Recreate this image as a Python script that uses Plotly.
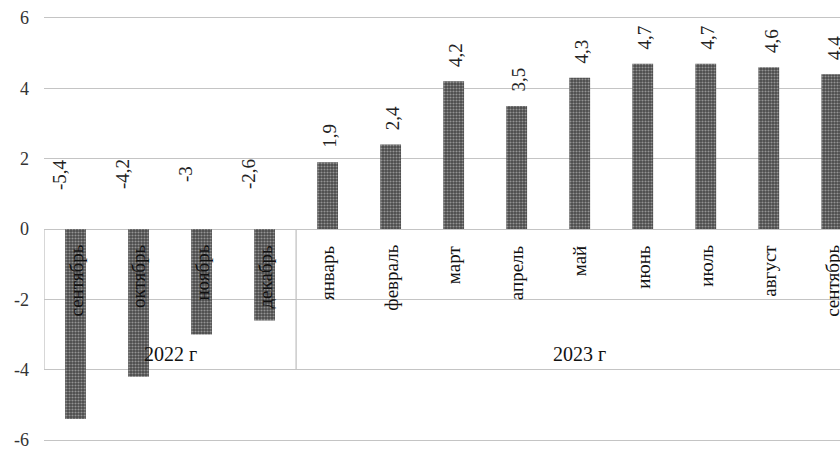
import plotly.graph_objects as go

months = ["сентябрь", "октябрь", "ноябрь", "декабрь",
          "январь", "февраль", "март", "апрель", "май", "июнь", "июль", "август", "сентябрь"]
groups = ["2022 г", "2023 г"]
group_sizes = [4, 9]
values = [-5.4, -4.2, -3, -2.6, 1.9, 2.4, 4.2, 3.5, 4.3, 4.7, 4.7, 4.6, 4.4]
value_labels = ["-5,4", "-4,2", "-3", "-2,6", "1,9", "2,4", "4,2", "3,5", "4,3", "4,7", "4,7", "4,6", "4,4"]
y_ticks = [-6, -4, -2, 0, 2, 4, 6]

FONT = "Liberation Serif, Times New Roman, serif"
GRID = "#c4c4c4"
idx = list(range(len(months)))

fig = go.Figure()
fig.add_trace(go.Bar(
    x=idx, y=values, width=0.33,
    marker=dict(color="#4a4a4a", line=dict(width=0),
                pattern=dict(shape=".", fgcolor="#dcdcdc", bgcolor="#4a4a4a",
                             size=3, solidity=0.4)),
    hoverinfo="skip", showlegend=False,
))

annotations = []
# value labels
for i, (v, t) in enumerate(zip(values, value_labels)):
    if v >= 0:
        annotations.append(dict(x=i, y=v, xref="x", yref="y", text=t, textangle=-90,
                                showarrow=False, xanchor="center", yanchor="bottom",
                                yshift=12, xshift=2, font=dict(family=FONT, size=19, color="#222")))
    else:
        annotations.append(dict(x=i, y=1.55, xref="x", yref="y", text=t, textangle=-90,
                                showarrow=False, xanchor="center", yanchor="middle",
                                xshift=-16, font=dict(family=FONT, size=19, color="#222")))
# month labels
for i, m in enumerate(months):
    annotations.append(dict(x=i, y=0, xref="x", yref="y", text=m, textangle=-90,
                            showarrow=False, xanchor="center", yanchor="top",
                            yshift=-14, font=dict(family=FONT, size=19, color="#111")))
# group labels and dividers
shapes = []
start = 0
for g, n in zip(groups, group_sizes):
    left = start - 0.5
    right = start + n - 0.5
    annotations.append(dict(x=(left + right) / 2, y=-3.55, xref="x", yref="y", text=g,
                            showarrow=False, xanchor="center", yanchor="middle",
                            font=dict(family=FONT, size=20, color="#111")))
    shapes.append(dict(type="line", xref="x", yref="y", x0=left, x1=left, y0=0, y1=-4,
                       line=dict(color="#bdbdbd", width=1.2), layer="below"))
    start += n
shapes.append(dict(type="line", xref="x", yref="y", x0=start - 0.5, x1=start - 0.5, y0=0, y1=-4,
                   line=dict(color="#bdbdbd", width=1.2), layer="below"))

fig.update_layout(
    width=840, height=450,
    margin=dict(l=44, r=0, t=18, b=8),
    paper_bgcolor="white", plot_bgcolor="white",
    annotations=annotations, shapes=shapes,
    # x axis line + mirror give the gridlines at the ends of the value axis (6 and -6)
    xaxis=dict(range=[-0.5, 12.13], showticklabels=False, showgrid=False,
               zeroline=False, showline=True, mirror=True, linecolor=GRID, linewidth=1.2,
               ticks=""),
    yaxis=dict(range=[-6, 6], tickvals=y_ticks, ticktext=[str(v) for v in y_ticks],
               showgrid=True, gridcolor=GRID, gridwidth=1.2,
               zeroline=True, zerolinecolor=GRID, zerolinewidth=1.2,
               showline=False, ticks="", ticklen=0, ticklabelstandoff=14,
               ticklabeloverflow="allow",
               tickfont=dict(family=FONT, size=18, color="#333")),
    font=dict(family=FONT),
)

fig.write_html("out.html", config={"displayModeBar": False},
               post_script="document.body.style.margin='0';document.body.style.overflow='hidden';")
